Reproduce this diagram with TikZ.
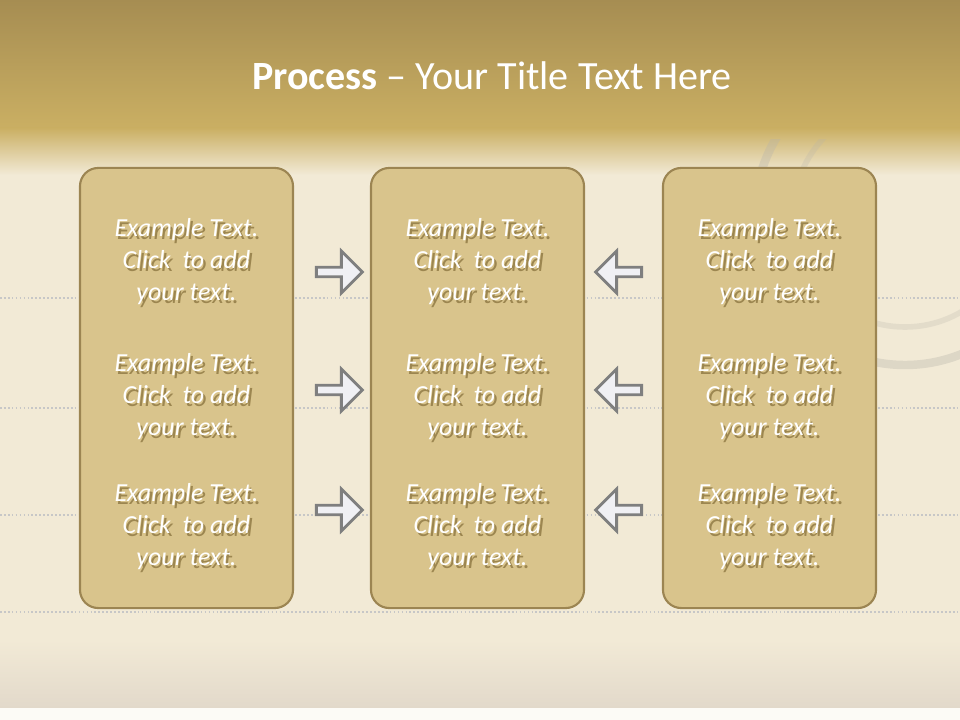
\documentclass[tikz,border=0pt]{standalone}
\usepackage{fontspec}
\setmainfont{Carlito}
\usetikzlibrary{shapes.arrows}

\definecolor{headtop}{HTML}{A68D52}
\definecolor{headbot}{HTML}{CAAF63}
\definecolor{paper}{HTML}{F2EAD6}
\definecolor{paperlow}{HTML}{E2D9CA}
\definecolor{strip}{HTML}{FCFBF6}
\definecolor{boxfill}{HTML}{D9C48C}
\definecolor{boxedge}{HTML}{9C8552}
\definecolor{arrowfill}{HTML}{F0F0F4}
\definecolor{arrowedge}{HTML}{7F7F7F}
\definecolor{txtshadow}{HTML}{9C8650}
\definecolor{stampgray}{HTML}{B8B4AA}

% one line of white text over its drop shadow
\newcommand{\shline}[1]{%
    \makebox[0pt][l]{\raisebox{-1.7pt}{\hspace{1.7pt}\textcolor{txtshadow}{#1}}}%
    \textcolor{white}{#1}}

\begin{document}
\begin{tikzpicture}[x=0.025cm, y=-0.025cm,
    column/.style={
        draw=boxedge, fill=boxfill, line width=1.5pt, rounded corners=13pt,
        minimum width=5.325cm, minimum height=11cm, inner sep=0pt
    },
    % white italic text block
    txt/.style={align=center, inner sep=0pt,
                font=\fontsize{18.5}{22.8}\selectfont\itshape},
    % block arrows between the columns
    blockarrow/.style={single arrow, draw=arrowedge, fill=arrowfill,
                line width=2pt, minimum height=1.15cm, minimum width=1.05cm,
                single arrow head extend=0.12cm, inner sep=0pt},
    ruling/.style={draw=black!22, line width=0.8pt, dash pattern=on 1.2pt off 1.6pt},
]
    \useasboundingbox (0,0) rectangle (960,720);

    % paper background with golden header band
    \shade[top color=headtop, bottom color=headbot] (0,0) rectangle (960,128);
    \shade[top color=headbot, bottom color=paper] (0,128) rectangle (960,175);
    \fill[paper] (0,175) rectangle (960,640);
    \shade[top color=paper, bottom color=paperlow] (0,640) rectangle (960,708);
    \fill[strip] (0,708) rectangle (960,720);

    % faint postmark and ruled lines
    \begin{scope}
        \clip (0,140) rectangle (960,700);
        \draw[stampgray, opacity=0.35, line width=6pt] (905,215) circle (150);
        \draw[stampgray, opacity=0.25, line width=4pt] (905,215) circle (112);
    \end{scope}
    \foreach \ly in {298, 408, 515, 612}
        \draw[ruling] (0,\ly) -- (960,\ly);

    % title
    \node[text=white, font=\fontsize{28.5}{34}\selectfont] (title) at (492,76)
        {\textbf{Process} -- Your Title Text Here};

    % three columns
    \node[column] (left) at (186.5,388) {};
    \node[column] (mid) at (477.5,388) {};
    \node[column] (right) at (769.5,388) {};

    % text blocks
    \foreach \col/\cx in {left/186.5, mid/477.5, right/769.5}
      \foreach \row/\cy in {1/263, 2/398, 3/528}
        \node[txt] (\col-\row) at (\cx,\cy)
            {\shline{Example Text.}\\\shline{Click\ \ to add}\\\shline{your text.}};

    % arrows pointing into the middle column
    \foreach \row/\ay in {1/272, 2/390, 3/510} {
        \node[blockarrow] (inl-\row) at (337,\ay) {};
        \node[blockarrow, shape border rotate=180] (inr-\row) at (621,\ay) {};
    }
\end{tikzpicture}
\end{document}
